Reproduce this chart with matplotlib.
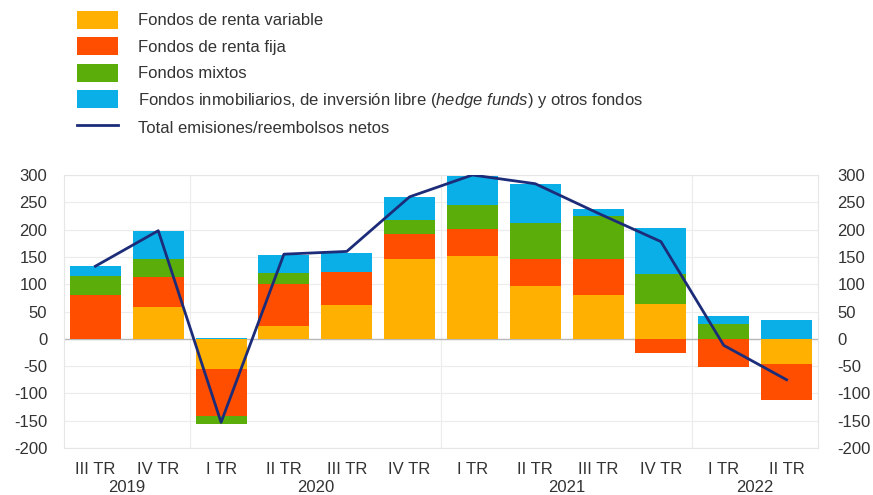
import matplotlib
matplotlib.use('Agg')
import matplotlib.pyplot as plt
from matplotlib.patches import Patch
from matplotlib.lines import Line2D
import numpy as np

plt.rcParams['font.family'] = ['Liberation Sans', 'DejaVu Sans']
plt.rcParams['mathtext.fontset'] = 'custom'
plt.rcParams['mathtext.it'] = 'Liberation Sans:italic'
plt.rcParams['mathtext.rm'] = 'Liberation Sans'
plt.rcParams['axes.unicode_minus'] = False

quarters = ['III TR', 'IV TR', 'I TR', 'II TR', 'III TR', 'IV TR',
            'I TR', 'II TR', 'III TR', 'IV TR', 'I TR', 'II TR']
years = ['2019', '2020', '2021', '2022']
year_span = [(0, 1), (2, 5), (6, 9), (10, 11)]

renta_variable = [0, 58, -55, 23, 62, 146, 152, 96, 81, 64, 0, -47]
renta_fija = [80, 55, -86, 78, 61, 46, 49, 50, 65, -26, -52, -65]
mixtos = [35, 34, -15, 20, 0, 26, 44, 67, 78, 55, 28, 0]
otros = [18, 51, 2, 33, 35, 42, 53, 71, 13, 84, 13, 35]
total = [133, 198, -153, 155, 160, 260, 300, 284, 230, 178, -12, -75]

series = [
    ('Fondos de renta variable', renta_variable, '#FFB000'),
    ('Fondos de renta fija', renta_fija, '#FF4E00'),
    ('Fondos mixtos', mixtos, '#5BAE0A'),
    ('Fondos inmobiliarios, de inversión libre $\\it{(hedge\\ funds)}$ y otros fondos', otros, '#0AAFE8'),
]
line_label = 'Total emisiones/reembolsos netos'
line_color = '#1C2C78'
txt = '#333333'

fig = plt.figure(figsize=(8.73, 4.95), dpi=100)
ax = fig.add_axes([64 / 873, 1 - 448 / 495, 754 / 873, 273 / 495])

x = np.arange(len(quarters))
pos = np.zeros(len(x))
neg = np.zeros(len(x))
for label, vals, col in series:
    v = np.array(vals, dtype=float)
    base = np.where(v >= 0, pos, neg)
    ax.bar(x, v, bottom=base, width=0.81, color=col, zorder=3)
    pos = np.where(v >= 0, pos + v, pos)
    neg = np.where(v < 0, neg + v, neg)

ax.plot(x, total, color=line_color, lw=2.0, zorder=4)

ax.set_xlim(-0.5, 11.5)
ax.set_ylim(-200, 300)
ax.set_yticks(np.arange(-200, 301, 50))
for yv in np.arange(-200, 301, 50):
    ax.axhline(yv, color='#ececec', lw=0.8, zorder=1)
ax.axhline(0, color='#b8b8b8', lw=1.0, zorder=2)
for xv in (1.5, 5.5, 9.5):
    ax.axvline(xv, color='#ececec', lw=0.8, zorder=1)

for s in ax.spines.values():
    s.set_color('#e6e6e6')
    s.set_linewidth(0.8)

ax.set_xticks(x)
ax.set_xticklabels(quarters)
ax.tick_params(axis='both', length=0, labelsize=12, colors=txt)
ax.tick_params(axis='x', pad=10)
ax.tick_params(axis='y', pad=12)

ax2 = ax.twinx()
ax2.set_ylim(ax.get_ylim())
ax2.set_yticks(np.arange(-200, 301, 50))
ax2.tick_params(axis='y', length=0, labelsize=12, colors=txt, pad=14)
for s in ax2.spines.values():
    s.set_visible(False)

for yr, (a, b) in zip(years, year_span):
    ax.text((a + b) / 2, -0.145, yr, transform=ax.get_xaxis_transform(),
            ha='center', va='center', fontsize=12, color=txt)

handles = [Patch(facecolor=c, edgecolor='none') for _, _, c in series]
handles.append(Line2D([0], [0], color=line_color, lw=2.0))
labels = [l for l, _, _ in series] + [line_label]
fig.legend(handles, labels, loc='upper left', bbox_to_anchor=(70 / 873, 1 - 4 / 495),
           frameon=False, fontsize=12, handlelength=2.5, handleheight=1.3,
           handletextpad=1.2, labelspacing=0.5, borderaxespad=0, labelcolor=txt)

fig.savefig('out.png', dpi=100)
